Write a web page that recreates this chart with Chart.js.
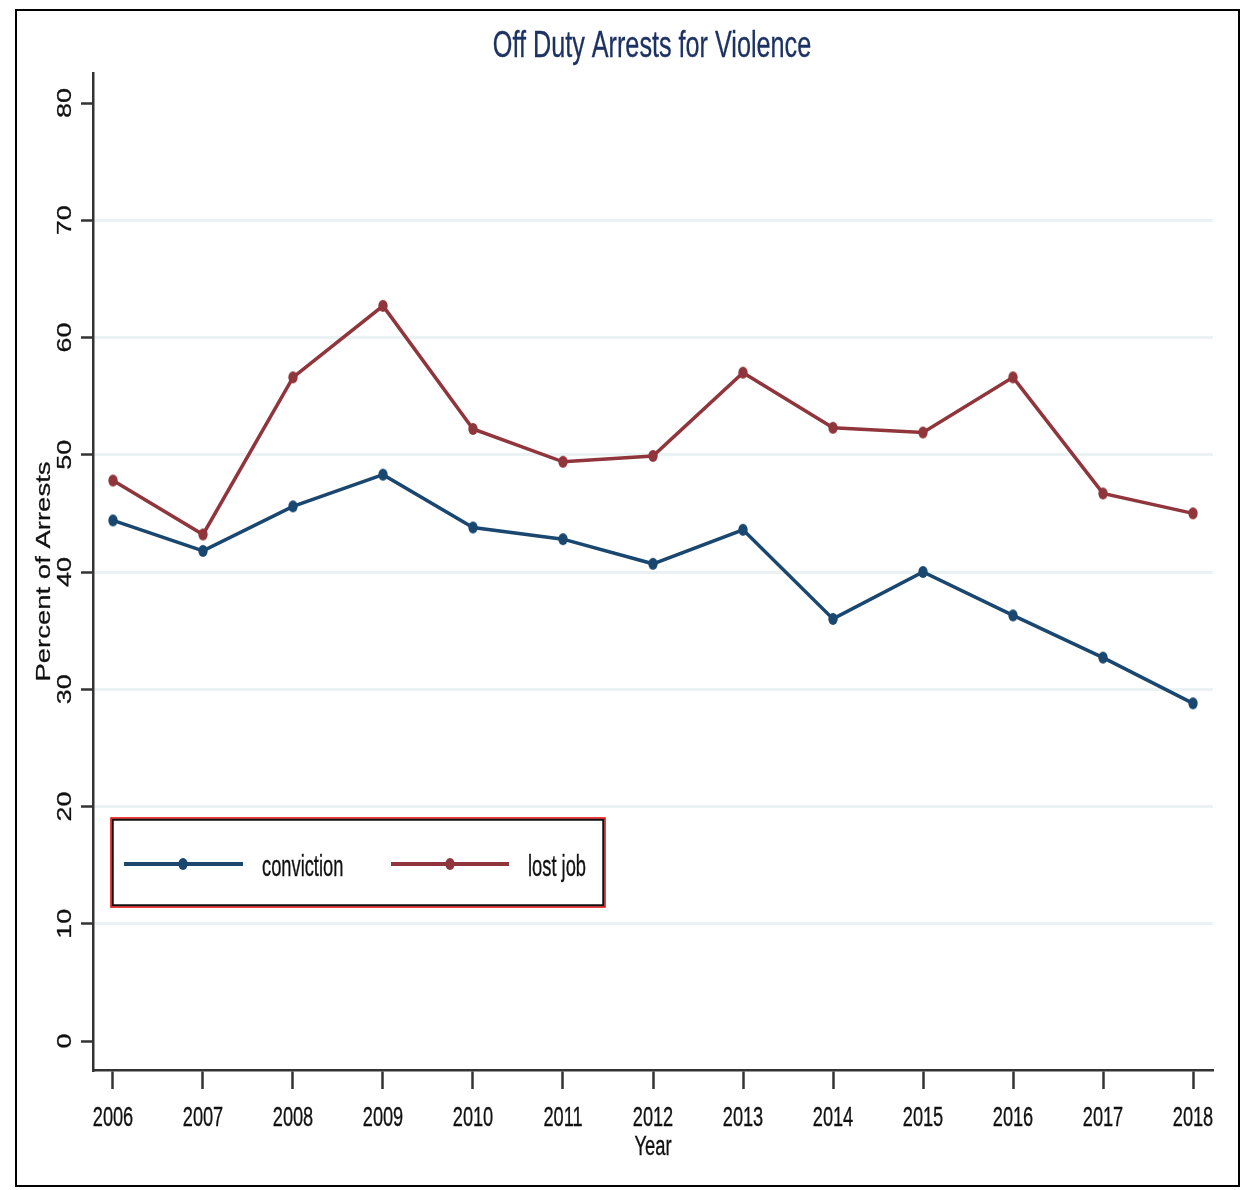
<!DOCTYPE html>
<html>
<head>
<meta charset="utf-8">
<title>Off Duty Arrests for Violence</title>
<script src="https://cdn.jsdelivr.net/npm/chart.js@4.4.1/dist/chart.umd.min.js"></script>
<style>
  html, body { margin: 0; padding: 0; background: #fff; }
  #chart { display: block; }
</style>
</head>
<body>
<canvas id="chart" width="1255" height="1190"></canvas>
<script>
        // Data
        const years = [2006, 2007, 2008, 2009, 2010, 2011, 2012, 2013, 2014, 2015, 2016, 2017, 2018];
        const conviction = [44.4, 41.8, 45.6, 48.3, 43.8, 42.8, 40.7, 43.6, 36.0, 40.0, 36.3, 32.7, 28.8];
        const lostJob = [47.8, 43.2, 56.6, 62.7, 52.2, 49.4, 49.9, 57.0, 52.3, 51.9, 56.6, 46.7, 45.0];
        const yTicks = [0, 10, 20, 30, 40, 50, 60, 70, 80];
        const seriesNames = ['conviction', 'lost job'];

        const NAVY = '#1a476f';
        const MAROON = '#90353b';
        const TITLE = '#1c3262';
        const AXIS = '#333333';
        const GRID = '#eaf2f3';
        const FONT = '"Liberation Sans", Arial, sans-serif';

        // Stata markers look slightly taller than wide in the picture
        function ellipseMarker(color) {
            const c = document.createElement('canvas');
            c.width = 12;
            c.height = 14;
            const g = c.getContext('2d');
            g.fillStyle = color;
            g.beginPath();
            g.ellipse(6, 7, 4.7, 6, 0, 0, Math.PI * 2);
            g.fill();
            return c;
        }

        function drawText(ctx, text, x, y, o) {
            ctx.save();
            ctx.translate(x, y);
            if (o.rot) ctx.rotate(o.rot);
            ctx.scale(o.sx || 1, o.sy || 1);
            ctx.font = o.size + 'px ' + FONT;
            ctx.fillStyle = o.color || '#111';
            ctx.strokeStyle = o.color || '#111';
            ctx.lineWidth = o.weight || 0.35;
            ctx.textAlign = o.align || 'center';
            ctx.textBaseline = 'alphabetic';
            ctx.fillText(text, 0, 0);
            ctx.strokeText(text, 0, 0);
            ctx.restore();
        }

        // Title, tick labels, axis titles, legend box and outer frame
        const stataDecor = {
            id: 'stataDecor',
            afterDraw(chart) {
                const ctx = chart.ctx;
                const xs = chart.scales.x;
                const ys = chart.scales.y;

                drawText(ctx, 'Off Duty Arrests for Violence', 652, 57, { size: 36, sx: 0.70, color: TITLE, weight: 0.3 });

                years.forEach(yr => {
                    drawText(ctx, String(yr), xs.getPixelForValue(yr), 1126, { size: 28, sx: 0.65 });
                });
                drawText(ctx, 'Year', (xs.left + xs.right) / 2, 1155, { size: 27, sx: 0.68 });

                yTicks.forEach(v => {
                    drawText(ctx, String(v), 71, ys.getPixelForValue(v), { size: 27, rot: -Math.PI / 2, sy: 0.74 });
                });
                drawText(ctx, 'Percent of Arrests', 50, (ys.top + ys.bottom) / 2, { size: 27.5, rot: -Math.PI / 2, sy: 0.76 });

                // legend box: thin red edge right outside a dark frame
                ctx.save();
                ctx.strokeStyle = '#ee0000';
                ctx.lineWidth = 1.5;
                ctx.strokeRect(111, 818, 494, 89);
                ctx.strokeStyle = '#111';
                ctx.lineWidth = 2;
                ctx.strokeRect(112.75, 819.75, 490.5, 85.5);

                const items = [
                    { x0: 124, x1: 243, mx: 183, tx: 262 },
                    { x0: 391, x1: 509, mx: 450, tx: 528 }
                ];
                chart.data.datasets.forEach((ds, i) => {
                    const it = items[i];
                    ctx.strokeStyle = ds.borderColor;
                    ctx.lineWidth = 4;
                    ctx.beginPath();
                    ctx.moveTo(it.x0, 864);
                    ctx.lineTo(it.x1, 864);
                    ctx.stroke();
                    ctx.drawImage(ds.pointStyle, it.mx - 6, 864 - 7);
                    drawText(ctx, ds.label, it.tx, 876, { size: 30, sx: 0.61, align: 'left' });
                });

                // outer frame
                ctx.strokeStyle = '#000';
                ctx.lineWidth = 2;
                ctx.strokeRect(16, 10, 1223, 1176);
                ctx.restore();
            }
        };

        const ctx = document.getElementById('chart').getContext('2d');
        const offDutyChart = new Chart(ctx, {
            type: 'line',
            data: {
                datasets: [{
                    label: seriesNames[0],
                    data: years.map((yr, i) => ({ x: yr, y: conviction[i] })),
                    borderColor: NAVY,
                    backgroundColor: NAVY,
                    borderWidth: 3.5,
                    pointStyle: ellipseMarker(NAVY),
                    tension: 0
                }, {
                    label: seriesNames[1],
                    data: years.map((yr, i) => ({ x: yr, y: lostJob[i] })),
                    borderColor: MAROON,
                    backgroundColor: MAROON,
                    borderWidth: 3.5,
                    pointStyle: ellipseMarker(MAROON),
                    tension: 0
                }]
            },
            options: {
                responsive: false,
                animation: false,
                events: [],
                layout: { padding: { left: 0, top: 73, right: 42, bottom: 0 } },
                plugins: {
                    legend: { display: false },
                    title: { display: false },
                    tooltip: { enabled: false }
                },
                scales: {
                    x: {
                        type: 'linear',
                        min: 2006 - 20 / 90,
                        max: 2018 + 20 / 90,
                        afterBuildTicks: scale => { scale.ticks = years.map(v => ({ value: v })); },
                        afterFit: scale => { scale.height = 120; },
                        ticks: { display: false },
                        grid: {
                            drawOnChartArea: false,
                            drawTicks: true,
                            tickLength: 19,
                            tickColor: AXIS,
                            tickWidth: 2.5
                        },
                        border: { display: true, color: AXIS, width: 2.5 }
                    },
                    y: {
                        type: 'linear',
                        min: -29 / 11.725,
                        max: 80 + 30 / 11.725,
                        afterBuildTicks: scale => { scale.ticks = yTicks.map(v => ({ value: v })); },
                        afterFit: scale => { scale.width = 93; },
                        ticks: { display: false },
                        grid: {
                            color: c => (c.tick && (c.tick.value === 0 || c.tick.value === 80)) ? 'rgba(0,0,0,0)' : GRID,
                            lineWidth: 3,
                            drawTicks: true,
                            tickLength: 12,
                            tickColor: AXIS,
                            tickWidth: 2.5
                        },
                        border: { display: true, color: AXIS, width: 2.5 }
                    }
                }
            },
            plugins: [stataDecor]
        });
</script>
</body>
</html>
